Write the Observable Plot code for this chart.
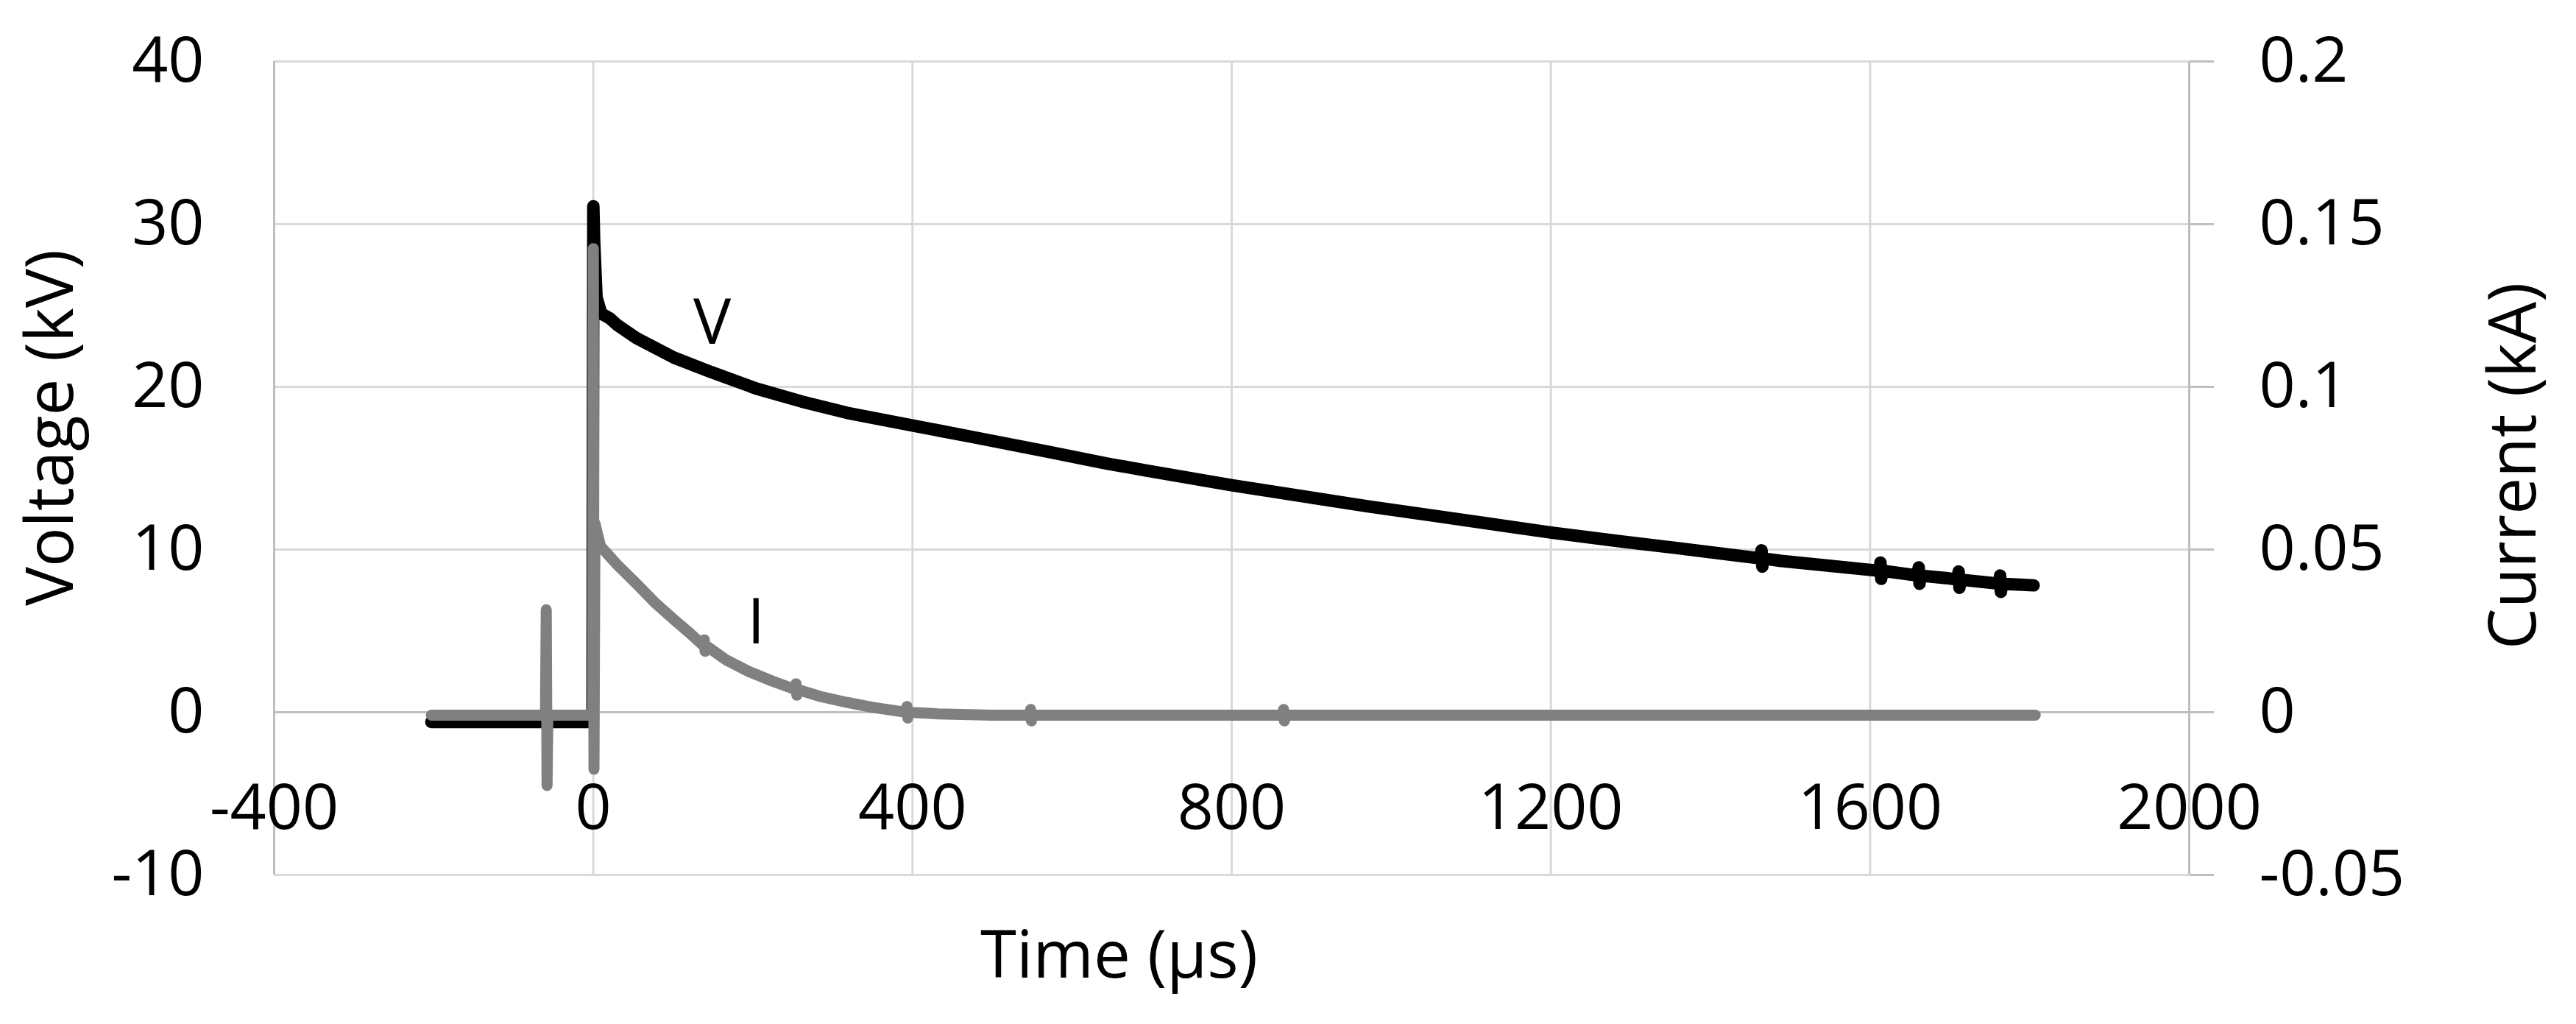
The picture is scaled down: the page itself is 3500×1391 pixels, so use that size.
<!DOCTYPE html>
<html>
<head>
<meta charset="utf-8">
<script src="https://cdn.jsdelivr.net/npm/d3@7"></script>
<script src="https://cdn.jsdelivr.net/npm/@observablehq/plot@0.6"></script>
<style>
  html, body { margin: 0; padding: 0; background: #fff; }
  #chart svg { display: block; }
</style>
</head>
<body>
<div id="chart"></div>
<script>
// ---- Data ----
// Voltage trace, time in µs, voltage in kV
const voltageTime = [-203, -1, 0, 1, 4, 10, 21, 30, 54, 101, 148, 204, 261, 318, 403, 477, 571, 642, 694, 800, 971, 1057, 1200, 1288, 1365,
  1463, 1464, 1465, 1466, 1489, 1600,
  1612, 1613, 1614, 1615,
  1660, 1661, 1662, 1663, 1695,
  1710, 1711, 1712, 1713,
  1762, 1763, 1764, 1765, 1805];
const voltageKV = [-0.6, -0.6, 31.1, 29.0, 25.5, 24.5, 24.2, 23.8, 23.0, 21.8, 20.9, 19.9, 19.1, 18.4, 17.6, 16.9, 16.0, 15.3, 14.85, 13.95, 12.65, 12.05, 11.05, 10.5, 10.05,
  9.45, 9.95, 8.95, 9.45, 9.3, 8.75,
  8.7, 9.2, 8.2, 8.7,
  8.4, 8.9, 7.9, 8.4, 8.25,
  8.15, 8.65, 7.65, 8.15,
  7.9, 8.4, 7.4, 7.9, 7.8];

// Current trace, time in µs, current in kA
const currentTime = [-203, -60, -59, -58, -57, -1, 0, 0.8, 2, 9, 30, 54, 78, 101, 120,
  138, 139, 140, 141, 167, 195, 225,
  253, 254, 255, 256, 285, 318, 350, 383,
  392, 393, 394, 395, 432, 500,
  547, 548, 549, 550,
  864, 865, 866, 867, 1807];
const currentKA = [-0.0009, -0.0009, 0.0315, -0.0225, -0.0009, -0.0009, 0.1425, -0.0175, 0.058, 0.051, 0.0453, 0.0395, 0.0335, 0.0285, 0.0245,
  0.0205, 0.02225, 0.01875, 0.0205, 0.016, 0.0125, 0.0095,
  0.007, 0.00875, 0.00525, 0.007, 0.0048, 0.003, 0.0015, 0.0003,
  0.0, 0.00175, -0.00175, 0.0, -0.0005, -0.0009,
  -0.0009, 0.00085, -0.00265, -0.0009,
  -0.0009, 0.00085, -0.00265, -0.0009, -0.0009];

// Axes
const timeTicks = [-400, 0, 400, 800, 1200, 1600, 2000];
const timeTickLabels = ["-400", "0", "400", "800", "1200", "1600", "2000"];
const voltageTicks = [-10, 0, 10, 20, 30, 40];
const voltageTickLabels = ["-10", "0", "10", "20", "30", "40"];
const currentTicks = [-0.05, 0, 0.05, 0.1, 0.15, 0.2];
const currentTickLabels = ["-0.05", "0", "0.05", "0.1", "0.15", "0.2"];
const kVperkA = 200; // secondary axis: 0.05 kA <-> 10 kV

// Series annotations
const seriesNames = ["V", "I"];
const seriesLabelTime = [149, 204];
const seriesLabelValue = [23.9, 0.0273]; // V in kV, I in kA
const seriesLabelUnit = ["kV", "kA"];

const titleX = "Time (µs)";
const titleYLeft = "Voltage (kV)";
const titleYRight = "Current (kA)";

// ---- Build tables ----
const voltage = voltageTime.map((t, i) => ({t, v: voltageKV[i]}));
const current = currentTime.map((t, i) => ({t, v: currentKA[i] * kVperkA}));
const labels = seriesNames.map((name, i) => ({
  name, t: seriesLabelTime[i],
  v: seriesLabelUnit[i] === "kA" ? seriesLabelValue[i] * kVperkA : seriesLabelValue[i]
}));
const rightTicks = currentTicks.map(c => c * kVperkA);

const FONT = "'Open Sans', 'DejaVu Sans', sans-serif";

const chart = Plot.plot({
  width: 3500,
  height: 1391,
  marginLeft: 372,
  marginRight: 526,
  marginTop: 83,
  marginBottom: 203,
  x: {domain: [-400, 2000], axis: null},
  y: {domain: [-10, 40], axis: null},
  style: {fontFamily: FONT, fontSize: "86px", background: "#fff", color: "#000", overflow: "visible"},
  marks: [
    Plot.gridY(voltageTicks, {stroke: "#d9d9d9", strokeOpacity: 1, strokeWidth: 3}),
    Plot.gridX(timeTicks, {stroke: "#d9d9d9", strokeOpacity: 1, strokeWidth: 3}),
    Plot.ruleX([timeTicks[0], timeTicks[timeTicks.length - 1]], {stroke: "#bfbfbf", strokeWidth: 3}),
    Plot.ruleY([0], {stroke: "#bfbfbf", strokeWidth: 3}),
    // left axis labels
    Plot.axisY(voltageTicks, {
      anchor: "left", tickSize: 0, tickPadding: 95, label: null,
      tickFormat: (d) => voltageTickLabels[voltageTicks.indexOf(d)],
      fill: "#000", fontSize: 86, fontFamily: FONT
    }),
    // right axis (current)
    Plot.axisY(rightTicks, {
      anchor: "right", tickSize: 33, tickPadding: 62, label: null,
      stroke: "#bfbfbf", strokeWidth: 3, fill: "#000",
      tickFormat: (d) => currentTickLabels[rightTicks.indexOf(d)],
      fontSize: 86, fontFamily: FONT
    }),
    // x tick labels sit below the zero line
    Plot.text(timeTicks, {
      x: d => d, y: 0, dy: 131, text: (d, i) => timeTickLabels[i],
      textAnchor: "middle", lineAnchor: "middle", fill: "#000", fontSize: 86, fontFamily: FONT
    }),
    // series
    Plot.line(voltage, {x: "t", y: "v", stroke: "#000", strokeWidth: 17, strokeLinejoin: "round", strokeLinecap: "round"}),
    Plot.line(current, {x: "t", y: "v", stroke: "#808080", strokeWidth: 15, strokeLinejoin: "round", strokeLinecap: "round"}),
    Plot.text(labels, {x: "t", y: "v", text: "name", fill: "#000", fontSize: 86, fontFamily: FONT, lineAnchor: "middle"}),
    // axis titles
    Plot.text([titleX], {frameAnchor: "bottom", dx: -153, dy: 111, textAnchor: "middle", lineAnchor: "middle", fill: "#000", fontSize: 89, fontFamily: FONT}),
    Plot.text([titleYLeft], {frameAnchor: "left", dx: -302, dy: -55, rotate: -90, textAnchor: "middle", lineAnchor: "middle", fill: "#000", fontSize: 89, fontFamily: FONT}),
    Plot.text([titleYRight], {frameAnchor: "right", dx: 442, dy: -3, rotate: -90, textAnchor: "middle", lineAnchor: "middle", fill: "#000", fontSize: 89, fontFamily: FONT})
  ]
});

document.getElementById("chart").appendChild(chart);
</script>
</body>
</html>
